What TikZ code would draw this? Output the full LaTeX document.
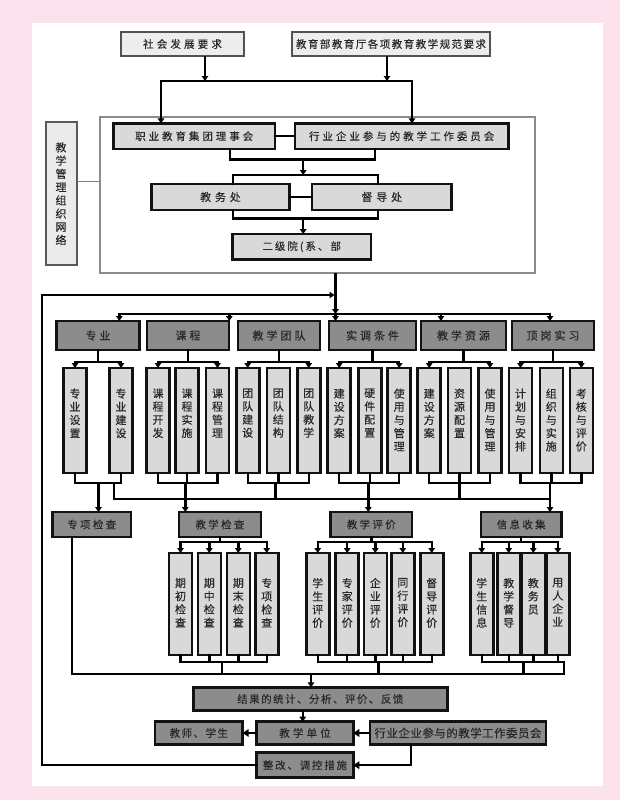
\documentclass[tikz,border=0pt]{standalone}
\usepackage{fontspec}
\setmainfont{Noto Sans CJK SC}
\newfontfamily\cjk[FakeBold=0.2]{Noto Sans CJK SC}
\newcommand{\zhf}[2]{\cjk\fontsize{#2}{#2}\selectfont\addfontfeature{LetterSpace=#1}}
\usetikzlibrary{arrows.meta}
\definecolor{pinkbg}{RGB}{251,226,236}
\definecolor{txt}{RGB}{40,40,40}
\definecolor{lfill}{RGB}{217,217,217}
\definecolor{dfill}{RGB}{140,140,140}
\definecolor{tfill}{RGB}{237,237,237}
\definecolor{edge}{RGB}{18,18,18}
\newcommand{\usub}[3]{\node[vbox] (#1) at (#2,420.5) {};\node[vtxt,anchor=north] (#1t) at ([yshift=-20.5pt]#1.north) {#3};}
\newcommand{\lsub}[3]{\node[wbox] (#1) at (#2,604) {};\node[vtxt,anchor=north] (#1t) at ([yshift=-25pt]#1.north) {#3};}
\begin{document}
\begin{tikzpicture}[x=1pt,y=-1pt,
 base/.style={inner sep=0pt, outer sep=0pt, text=txt, align=center},
 topbox/.style={base, fill=tfill, draw=black!68, line width=1.8pt},
 lbox/.style={base, fill=lfill, draw=edge, line width=2.6pt},
 dbox/.style={base, fill=dfill, draw=edge, line width=2.6pt},
 vbox/.style={lbox, minimum width=23pt, minimum height=105pt},
 wbox/.style={lbox, minimum width=23pt, minimum height=102pt},
 vtxt/.style={base, font=\cjk\fontsize{11}{13.2}\selectfont},
 conn/.style={line width=2.4pt, draw=black, line cap=rect},
 arr/.style={line width=2.4pt, draw=black, -{Triangle[length=5pt,width=6.5pt]}},
 harr/.style={line width=2.4pt, draw=black, -{Triangle[length=6pt,width=7.5pt]}},
 gline/.style={line width=1.1pt, draw=black!50},
]
\fill[pinkbg] (0,0) rectangle (620,800);
\fill[white] (32,23) rectangle (603,786);
\useasboundingbox (0,0) rectangle (620,800);

% reference levels
\coordinate (yT) at (0,314);
\coordinate (yA) at (0,362);
\coordinate (yB) at (0,483);
\coordinate (yC) at (0,499);
\coordinate (yD) at (0,542);
\coordinate (yE) at (0,661.7);
\coordinate (yF) at (0,674);

% top requirement boxes
\node[topbox, minimum width=123pt, minimum height=24pt, font=\zhf{30}{10.5}] (A) at (182.5,44) {社会发展要求};
\node[topbox, minimum width=198pt, minimum height=24pt, font=\zhf{14}{10.5}] (B) at (391,44) {教育部教育厅各项教育教学规范要求};

% management frame and label
\node[base, draw=black!45, line width=1.1pt, minimum width=435pt, minimum height=156pt] (F) at (317.5,195) {};
\node[base, fill=black!8, draw=black!65, line width=2pt, minimum width=31pt, minimum height=143pt, font=\cjk\fontsize{11}{13.25}\selectfont] (L) at (61,193.7) {教\\学\\管\\理\\组\\织\\网\\络};
\coordinate (Lc) at (100,181.7);
\draw[gline] (L.east |- Lc) -- (Lc);

\node[lbox, minimum width=161.7pt, minimum height=25.7pt, font=\zhf{28}{10.5}] (C1) at (194.2,136.2) {职业教育集团理事会};
\node[lbox, minimum width=213.3pt, minimum height=25.7pt, font=\zhf{28}{10.5}] (C2) at (401.7,136.2) {行业企业参与的教学工作委员会};
\node[lbox, minimum width=138.5pt, minimum height=26pt, font=\zhf{35}{11}] (D1) at (220.5,197) {教务处};
\node[lbox, minimum width=139.7pt, minimum height=26pt, font=\zhf{35}{11}] (D2) at (381.8,197) {督导处};
\node[lbox, minimum width=138.6pt, minimum height=25.3pt, font=\zhf{19}{10.5}] (E) at (301.7,246.7) {二级院(系、部};

% top connectors
\coordinate (ja) at (205,81);
\coordinate (jb) at (387,81);
\coordinate (jl) at (161,81);
\coordinate (jr) at (412,81);
\draw[arr] (A.south -| ja) -- (ja);
\draw[arr] (B.south -| jb) -- (jb);
\draw[conn] (jl) -- (jr);
\draw[arr] (jl) -- (C1.north -| jl);
\draw[arr] (jr) -- (C2.north -| jr);

\draw[conn] (C1.east) -- (C2.west);
\coordinate (b1l) at (229.7,159.3);
\coordinate (b1r) at (375,159.3);
\coordinate (b1) at (303.2,159.3);
\draw[conn] (C1.south -| b1l) -- (b1l) -- (b1r) -- (C2.south -| b1r);
\coordinate (b2l) at (233,175);
\coordinate (b2r) at (377.8,175);
\draw[arr] (b1) -- (b1 |- b2l);
\draw[conn] (D1.north -| b2l) -- (b2l) -- (b2r) -- (D2.north -| b2r);
\draw[conn] (D1.east) -- (D2.west);
\coordinate (b3l) at (233,218.3);
\coordinate (b3r) at (377.8,218.3);
\coordinate (b3) at (303.2,218.3);
\draw[conn] (D1.south -| b3l) -- (b3l) -- (b3r) -- (D2.south -| b3r);
\draw[arr] (b3) -- (E.north -| b3);

% categories
\node[dbox, minimum width=82.6pt, minimum height=29pt, font=\zhf{27}{11}] (K1) at (98,335.5) {专业};
\node[dbox, minimum width=82pt, minimum height=29pt, font=\zhf{27}{11}] (K2) at (188,335.5) {课程};
\node[dbox, minimum width=82pt, minimum height=29pt, font=\zhf{27}{11}] (K3) at (279,335.5) {教学团队};
\node[dbox, minimum width=87pt, minimum height=29pt, font=\zhf{27}{11}] (K4) at (372.5,335.5) {实调条件};
\node[dbox, minimum width=85pt, minimum height=29pt, font=\zhf{27}{11}] (K5) at (463.5,335.5) {教学资源};
\node[dbox, minimum width=82pt, minimum height=29pt, font=\zhf{27}{11}] (K6) at (553,335.5) {顶岗实习};

% feedback loop and descent
\node[dbox, minimum width=96.6pt, minimum height=25pt, font=\zhf{17}{10.5}] (Z) at (305,765.2) {整改、调控措施};
\coordinate (m0) at (335.5,314);
\coordinate (lp) at (41.7,295);
\coordinate (lq) at (334.5,295);
\draw[line width=2.4pt, draw=black] (F.south -| m0) -- (m0 |- lq);
\draw[arr] (m0 |- lq) -- (m0);
\draw[arr, line join=miter] (Z.west) -| (lp) -- (lq);

% category bar
\coordinate (t1) at (119.3,314);
\coordinate (t2) at (229.3,314);
\coordinate (t4) at (441,314);
\coordinate (t5) at (550,314);
\draw[conn] (t1) -- (t5);
\draw[arr] (t1) -- (K1.north -| t1);
\draw[arr] (t2) -- (K2.north -| t2);
\draw[arr] (m0) -- (K4.north -| m0);
\draw[arr] (t4) -- (K5.north -| t4);
\draw[arr] (t5) -- (K6.north -| t5);

% upper sub boxes
\usub{s11}{75}{专\\业\\设\\置}
\usub{s12}{121}{专\\业\\建\\设}
\usub{s21}{158}{课\\程\\开\\发}
\usub{s22}{187}{课\\程\\实\\施}
\usub{s23}{217.5}{课\\程\\管\\理}
\usub{s31}{247.7}{团\\队\\建\\设}
\usub{s32}{278.3}{团\\队\\结\\构}
\usub{s33}{308.7}{团\\队\\教\\学}
\usub{s41}{339.2}{建\\设\\方\\案}
\usub{s42}{369.7}{硬\\件\\配\\置}
\usub{s43}{399.2}{使\\用\\与\\管\\理}
\usub{s51}{429.2}{建\\设\\方\\案}
\usub{s52}{459.5}{资\\源\\配\\置}
\usub{s53}{490}{使\\用\\与\\管\\理}
\usub{s61}{520.5}{计\\划\\与\\安\\排}
\usub{s62}{551.3}{组\\织\\与\\实\\施}
\usub{s63}{581.3}{考\\核\\与\\评\\价}

% category -> sub connectors
\draw[conn] (K1.south) -- (K1.south |- yA);
\draw[conn] (s11 |- yA) -- (s12 |- yA);
\foreach \s in {s11,s12} \draw[arr] (\s |- yA) -- (\s.north);
\draw[conn] (K2.south) -- (K2.south |- yA);
\draw[conn] (s21 |- yA) -- (s23 |- yA);
\foreach \s in {s21,s23} \draw[arr] (\s |- yA) -- (\s.north);
\draw[conn] (K3.south) -- (K3.south |- yA);
\draw[conn] (s31 |- yA) -- (s33 |- yA);
\foreach \s in {s31,s33} \draw[arr] (\s |- yA) -- (\s.north);
\draw[conn] (K4.south) -- (K4.south |- yA);
\draw[conn] (s41 |- yA) -- (s43 |- yA);
\foreach \s in {s41,s43} \draw[arr] (\s |- yA) -- (\s.north);
\draw[conn] (K5.south) -- (K5.south |- yA);
\draw[conn] (s51 |- yA) -- (s53 |- yA);
\foreach \s in {s51,s53} \draw[arr] (\s |- yA) -- (\s.north);
\draw[conn] (K6.south) -- (K6.south |- yA);
\draw[conn] (s61 |- yA) -- (s63 |- yA);
\foreach \s in {s61,s63} \draw[arr] (\s |- yA) -- (\s.north);

% sub bottoms
\foreach \s in {s11,s12,s21,s22,s23,s31,s32,s33,s41,s42,s43,s51,s52,s53,s61,s62,s63}
  \draw[conn] (\s.south) -- (\s |- yB);
\draw[conn] (s11 |- yB) -- (s12 |- yB);
\draw[conn] (s21 |- yB) -- (s23 |- yB);
\draw[conn] (s31 |- yB) -- (s33 |- yB);
\draw[conn] (s41 |- yB) -- (s43 |- yB);
\draw[conn] (s51 |- yB) -- (s53 |- yB);
\draw[conn] (s61 |- yB) -- (s63 |- yB);

% second-level boxes
\node[dbox, minimum width=78.5pt, minimum height=25pt, font=\zhf{22}{10.5}] (R1) at (91.7,524.5) {专项检查};
\node[dbox, minimum width=82.2pt, minimum height=25pt, font=\zhf{22}{10.5}] (R2) at (219.9,524.5) {教学检查};
\node[dbox, minimum width=81.3pt, minimum height=25pt, font=\zhf{22}{10.5}] (R3) at (371.3,524.5) {教学评价};
\node[dbox, minimum width=80.5pt, minimum height=25pt, font=\zhf{22}{10.5}] (R4) at (521.2,524.5) {信息收集};

\coordinate (g1a) at (98.5,483);
\coordinate (g1b) at (113.8,483);
\coordinate (g2) at (185.3,483);
\coordinate (g3) at (275.6,483);
\coordinate (g4) at (368.3,483);
\coordinate (g5) at (459.4,483);
\coordinate (g6) at (550,483);
\draw[arr] (g1a) -- (R1.north -| g1a);
\draw[conn] (g1b) -- (g1b |- yC) -- (g6 |- yC);
\draw[conn] (g3) -- (g3 |- yC);
\draw[conn] (g5) -- (g5 |- yC);
\draw[arr] (g2) -- (R2.north -| g2);
\draw[arr] (g4) -- (R3.north -| g4);
\draw[arr] (g6) -- (R4.north -| g6);

% lower sub boxes
\lsub{w11}{180.5}{期\\初\\检\\查}
\lsub{w12}{209.3}{期\\中\\检\\查}
\lsub{w13}{238.3}{期\\末\\检\\查}
\lsub{w14}{266.7}{专\\项\\检\\查}
\lsub{w21}{317.7}{学\\生\\评\\价}
\lsub{w22}{347.2}{专\\家\\评\\价}
\lsub{w23}{375.3}{企\\业\\评\\价}
\lsub{w24}{402.8}{同\\行\\评\\价}
\lsub{w25}{431.7}{督\\导\\评\\价}
\lsub{w31}{481.7}{学\\生\\信\\息}
\lsub{w32}{508.7}{教\\学\\督\\导}
\lsub{w33}{533.3}{教\\务\\员}
\lsub{w34}{557.8}{用\\人\\企\\业}

\draw[conn] (R2.south) -- (R2.south |- yD);
\draw[conn] (w11 |- yD) -- (w14 |- yD);
\foreach \s in {w11,w12,w13,w14} \draw[arr] (\s |- yD) -- (\s.north);
\draw[conn] (R3.south) -- (R3.south |- yD);
\draw[conn] (w21 |- yD) -- (w25 |- yD);
\foreach \s in {w21,w22,w23,w24,w25} \draw[arr] (\s |- yD) -- (\s.north);
\draw[conn] (R4.south) -- (R4.south |- yD);
\draw[conn] (w31 |- yD) -- (w34 |- yD);
\foreach \s in {w31,w32,w33,w34} \draw[arr] (\s |- yD) -- (\s.north);

\foreach \s in {w11,w12,w13,w14,w21,w22,w23,w24,w25,w31,w32,w33,w34}
  \draw[conn] (\s.south) -- (\s |- yE);
\coordinate (e3r) at (564,661.7);
\draw[conn] (w11 |- yE) -- (w14 |- yE);
\draw[conn] (w21 |- yE) -- (w25 |- yE);
\draw[conn] (w31 |- yE) -- (e3r) -- (e3r |- yF);
\coordinate (h1) at (221.7,661.7);
\coordinate (h2) at (378.3,661.7);
\coordinate (h3) at (523.3,661.7);
\draw[conn] (h1) -- (h1 |- yF);
\draw[conn] (h2) -- (h2 |- yF);
\draw[conn] (h3) -- (h3 |- yF);
\coordinate (r1x) at (71.7,537);
\draw[conn] (R1.south -| r1x) -- (r1x |- yF) -- (e3r |- yF);

% results chain
\node[dbox, minimum width=254pt, minimum height=23.4pt, font=\zhf{14}{10.5}] (S) at (320.3,699) {结果的统计、分析、评价、反馈};
\node[dbox, minimum width=96.6pt, minimum height=22.6pt, font=\zhf{30}{10.5}] (U) at (305,733) {教学单位};
\node[dbox, minimum width=87.7pt, minimum height=22.6pt, font=\zhf{14}{10.5}] (T) at (198.8,733) {教师、学生};
\node[dbox, minimum width=176pt, minimum height=22.6pt, font=\zhf{4}{11.5}] (W) at (458,733) {行业企业参与的教学工作委员会};

\coordinate (sj) at (311,674);
\draw[arr] (sj) -- (S.north -| sj);
\coordinate (uj) at (302.7,710.7);
\draw[arr] (S.south -| uj) -- (U.north -| uj);
\draw[harr] (W.west) -- (U.east);
\draw[harr] (U.west) -- (T.east);
\coordinate (wz) at (411,765.2);
\draw[harr, line join=miter] (W.south -| wz) -- (wz) -- (Z.east);
\end{tikzpicture}
\end{document}
